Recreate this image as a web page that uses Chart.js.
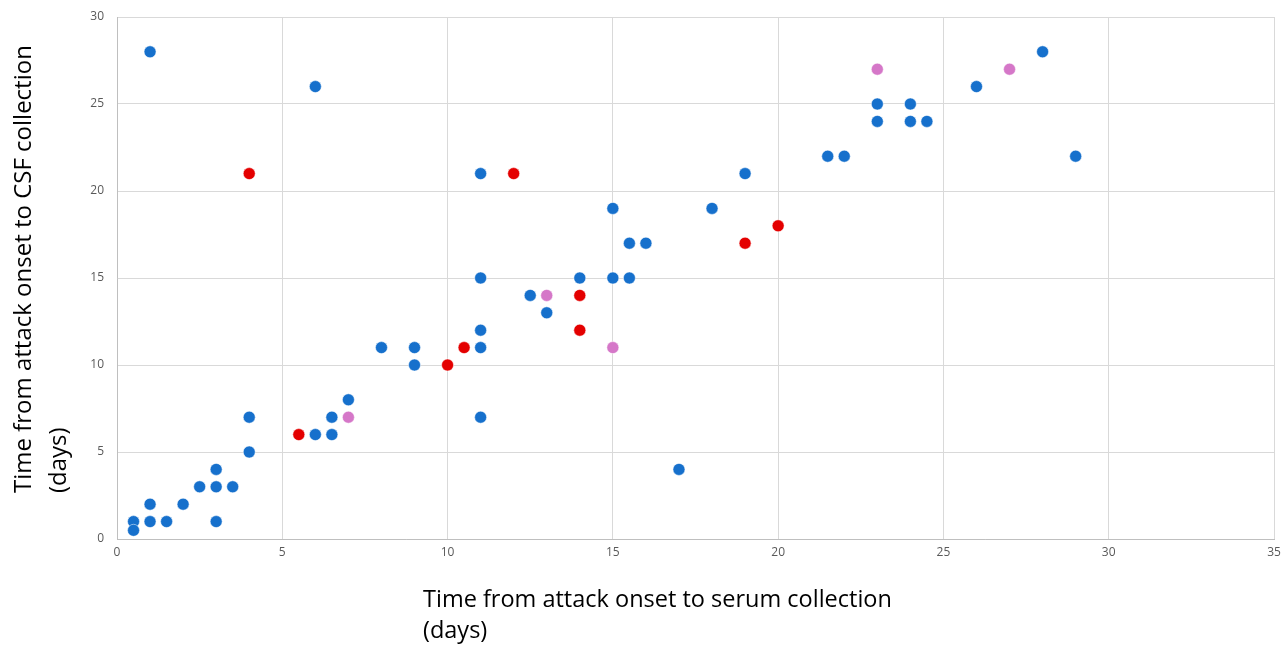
<!DOCTYPE html>
<html>
<head>
<meta charset="utf-8">
<script src="https://cdn.jsdelivr.net/npm/chart.js@4/dist/chart.umd.min.js"></script>
<style>
  html, body { margin: 0; padding: 0; background: #fff; }
  #wrap { width: 1287px; height: 646px; position: relative; }
</style>
</head>
<body>
<div id="wrap"><canvas id="scatterChart"></canvas></div>
<script>
// serum day (x) / CSF day (y), split by marker colour
const blueX = [0.5, 0.5, 1, 1, 1.5, 2, 2.5, 3, 3, 3, 3.5, 4, 4, 6, 6.5, 6.5, 7, 8, 9, 9, 11, 11, 11, 11, 11, 12.5, 13, 14, 15, 15.5, 15, 15.5, 16, 17, 18, 19, 21.5, 22, 23, 23, 24, 24, 24.5, 26, 28, 29, 1, 6];
const blueY = [1, 0.5, 1, 2, 1, 2, 3, 3, 4, 1, 3, 5, 7, 6, 6, 7, 8, 11, 11, 10, 11, 12, 15, 7, 21, 14, 13, 15, 15, 15, 19, 17, 17, 4, 19, 21, 22, 22, 25, 24, 25, 24, 24, 26, 28, 22, 28, 26];
const redX = [4, 5.5, 10, 10.5, 12, 14, 14, 19, 20];
const redY = [21, 6, 10, 11, 21, 14, 12, 17, 18];
const pinkX = [7, 13, 15, 23, 27];
const pinkY = [7, 14, 11, 27, 27];

const xTitle = ["Time from attack onset to serum collection", "(days)"];
const yTitle = ["Time from attack onset to CSF collection", "(days)"];

const toPoints = (xs, ys) => xs.map((x, i) => ({ x: x, y: ys[i] }));

const tickColor = "#595959";
const gridColor = "#d9d9d9";
const titleFont = '24px "Open Sans", "Noto Sans", sans-serif';

// axis titles are left-aligned on two lines like the original, so draw them by hand
const axisTitles = {
  id: "axisTitles",
  afterDraw(chart) {
    const ctx = chart.ctx;
    const area = chart.chartArea;
    ctx.save();
    ctx.fillStyle = "#000";
    ctx.textAlign = "left";
    ctx.textBaseline = "alphabetic";
    const xLeft = area.left + 306;
    ctx.font = titleFont.replace("24px", "23.5px");
    ctx.fillText(xTitle[0], xLeft, area.bottom + 68);
    ctx.fillText(xTitle[1], xLeft, area.bottom + 99);

    ctx.font = titleFont;
    ctx.translate(0, area.bottom - 46);
    ctx.rotate(-Math.PI / 2);
    ctx.fillText(yTitle[0], 0, 31);
    ctx.fillText(yTitle[1], 0, 66);
    ctx.restore();
  },
};

const ctx = document.getElementById("scatterChart");
new Chart(ctx, {
  type: "scatter",
  data: {
    datasets: [
      {
        label: "blue",
        data: toPoints(blueX, blueY),
        backgroundColor: "#1670cc",
        borderColor: "#ffffff",
        borderWidth: 0.5,
        pointRadius: 6,
      },
      {
        label: "red",
        data: toPoints(redX, redY),
        backgroundColor: "#e40000",
        borderColor: "#ffffff",
        borderWidth: 0.5,
        pointRadius: 6,
      },
      {
        label: "pink",
        data: toPoints(pinkX, pinkY),
        backgroundColor: "#d577c8",
        borderColor: "#ffffff",
        borderWidth: 0.5,
        pointRadius: 6,
      },
    ],
  },
  options: {
    responsive: true,
    maintainAspectRatio: false,
    animation: false,
    layout: {
      padding: { top: 17, right: 13, left: 0, bottom: 0 },
    },
    scales: {
      x: {
        type: "linear",
        min: 0,
        max: 35,
        ticks: {
          stepSize: 5,
          color: tickColor,
          font: { family: '"Open Sans", sans-serif', size: 12 },
          padding: 6,
        },
        grid: { color: gridColor, drawTicks: false },
        border: { color: "#bfbfbf" },
        afterFit(scale) {
          scale.height = 107;
          scale.paddingLeft = 0;
          scale.paddingRight = 0;
        },
      },
      y: {
        type: "linear",
        min: 0,
        max: 30,
        ticks: {
          stepSize: 5,
          color: tickColor,
          font: { family: '"Open Sans", sans-serif', size: 12 },
          padding: 13,
        },
        grid: { color: gridColor, drawTicks: false },
        border: { color: "#bfbfbf" },
        afterFit(scale) {
          scale.width = 117;
          scale.paddingTop = 0;
          scale.paddingBottom = 0;
        },
      },
    },
    plugins: {
      legend: { display: false },
      tooltip: { enabled: false },
    },
  },
  plugins: [axisTitles],
});
</script>
</body>
</html>
